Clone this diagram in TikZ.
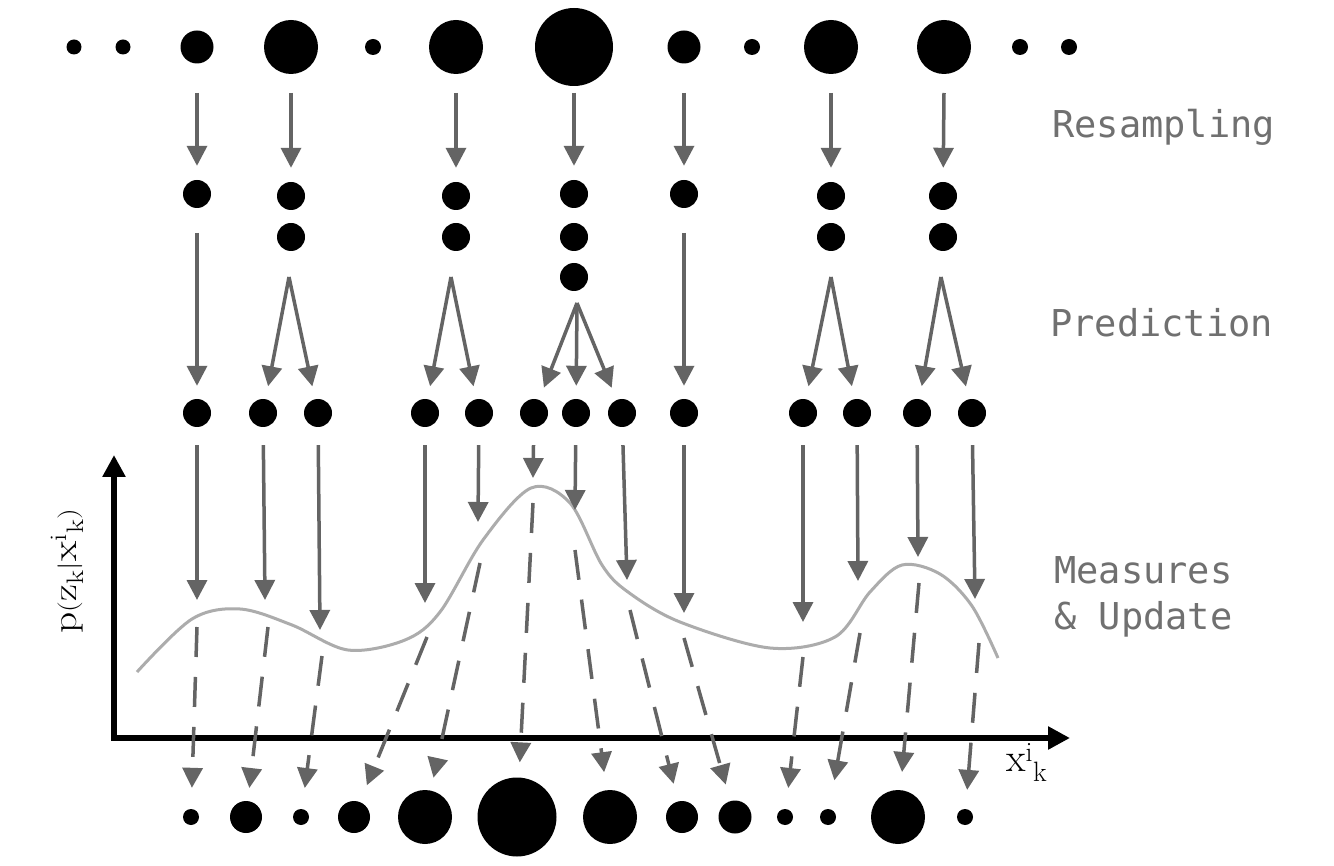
\documentclass[tikz,border=0pt]{standalone}
\usepackage{fontspec}
\usepackage{graphicx}
\newfontfamily\monofont{DejaVu Sans Mono}
\usetikzlibrary{arrows.meta,calc}
\definecolor{arrgray}{RGB}{100,100,100}
\definecolor{curvegray}{RGB}{172,172,172}
\definecolor{txtgray}{RGB}{112,112,112}
\begin{document}
\begin{tikzpicture}[x=1pt,y=-1pt,
  pdot/.style={circle,fill=black,inner sep=0pt,minimum size=#1},
  garrow/.style={draw=arrgray,line width=3.5pt,-{Triangle[length=20pt,width=20pt]}},
  darrow/.style={garrow,dash pattern=on 30pt off 20pt},
  axisline/.style={line width=5.5pt,line join=miter,{Triangle[length=22pt,width=22pt]}-{Triangle[length=22pt,width=22pt]}},
  steplabel/.style={font=\monofont\fontsize{37}{44}\selectfont,text=txtgray,anchor=base west,inner sep=0pt}]
\fill[white] (0,0) rectangle (1334,866);
\useasboundingbox (0,0) rectangle (1334,866);

% top row (weighted particles)
\foreach \n/\x/\d in {t1/74/15,t2/123/15,t3/197/33,t4/291/54,t5/373/16,t6/456/54,t7/574/78,t8/684/33,t9/752/16,t10/831/54,t11/944/54,t12/1020/16,t13/1069/16}
  \node[pdot=\d pt] (\n) at (\x,47) {};

% second row (resampled)
\foreach \n/\x/\y in {s1/197/194,s2a/291/196,s2b/291/237,s3a/456/196,s3b/456/237,s4a/574/194,s4b/574/237,s4c/574/277,s5/684/194,s6a/831/196,s6b/831/237,s7a/943/196,s7b/943/237}
  \node[pdot=28pt] (\n) at (\x,\y) {};

% third row (predicted)
\foreach \n/\x in {r1/197,r2/263,r3/318,r4/425,r5/479,r6/534,r7/576,r8/622,r9/684,r10/803,r11/857,r12/917,r13/972}
  \node[pdot=28pt] (\n) at (\x,413) {};

% bottom row (updated weights)
\foreach \n/\x/\d in {b1/191/16,b2/246/32,b3/301/16,b4/354/32,b5/425/54,b6/517/79,b7/610/54,b8/682/32,b9/735/33,b10/785/16,b11/828/16,b12/898/54,b13/965/16}
  \node[pdot=\d pt] (\n) at (\x,817) {};

% resampling arrows
\foreach \a/\b in {t3/s1,t4/s2a,t6/s3a,t7/s4a,t8/s5,t10/s6a,t11/s7a}
  \draw[garrow,shorten >=14pt] ([yshift=-46pt]\a.center) -- (\b);

% prediction arrows
\coordinate (p1) at ([yshift=-39pt]s1.center);
\coordinate (a2) at (289,277);
\coordinate (a3) at (451,277);
\coordinate (a4) at (577,303);
\coordinate (p5) at ([yshift=-39pt]s5.center);
\coordinate (a6) at (831,277);
\coordinate (a7) at (941,277);
\foreach \a/\b in {p1/r1,a2/r2,a2/r3,a3/r4,a3/r5,a4/r6,a4/r7,a4/r8,p5/r9,a6/r10,a6/r11,a7/r12,a7/r13}
  \draw[garrow,shorten >=13pt] (\a) -- (\b);

% axes
\coordinate (ytip) at (114,455);
\coordinate (orig) at (114,738);
\coordinate (xtip) at (1070,738);
\draw[axisline] (ytip) -- (orig) -- (xtip);

% likelihood curve
\draw[curvegray,line width=3pt] plot[smooth,tension=0.55] coordinates {
 (137,672) (192,619) (240,609) (292,625) (348,650) (405,640) (440,612) (483,540)
 (531,488) (570,503) (602,565) (628,592) (680,622) (770,648) (835,637) (870,592)
 (902,565) (940,574) (972,606) (998,658)};

% measure arrows
\foreach \n/\x/\y in {m1/197/600,m2/265/600,m3/320/630,m4/425/603,m5/478/522,m6/533/478,m7/575/510,m8/627/580,m9/684/613,m10/803/622,m11/858/581,m12/918/557,m13/975/599}
  \coordinate (\n) at (\x,\y);
\foreach \i in {1,...,13}
  \draw[garrow,shorten <=18pt] (r\i) -- (m\i);

% update (dashed) arrows
\foreach \n/\x/\y in {u1/197/627,u2/268/627,u3/322/656,u4/427/637,u5/480/563,u6/533/503,u7/575/550,u8/630/610,u9/684/638,u10/803/657,u11/860/633,u12/919/583,u13/979/643}
  \coordinate (\n) at (\x,\y);
\foreach \i/\g in {1/21,2/13,3/21,4/18,5/13,6/15,7/18,8/18,9/17,10/21,11/29,12/18,13/19}
  \draw[darrow,shorten >=\g pt] (u\i) -- (b\i);

% axis labels
\node[rotate=90,anchor=base,inner sep=0pt,font=\fontsize{34}{40}\selectfont] (ylab) at (76,571)
  {\scalebox{1.22}[1]{$\mathrm{p(z_k|x^{i}{}_{k})}$}};
\node[anchor=base west,inner sep=0pt,font=\fontsize{40}{44}\selectfont] (xlab) at (1006,771)
  {$\mathrm{x^{i}{}_{k}}$};

% step labels
\node[steplabel] (lres) at (1052,138) {Resampling};
\node[steplabel] (lpre) at (1050,337) {Prediction};
\node[steplabel] (lmea) at (1054,583) {Measures};
\node[steplabel] (lupd) at (1054,629) {\&~Update};
\end{tikzpicture}
\end{document}
